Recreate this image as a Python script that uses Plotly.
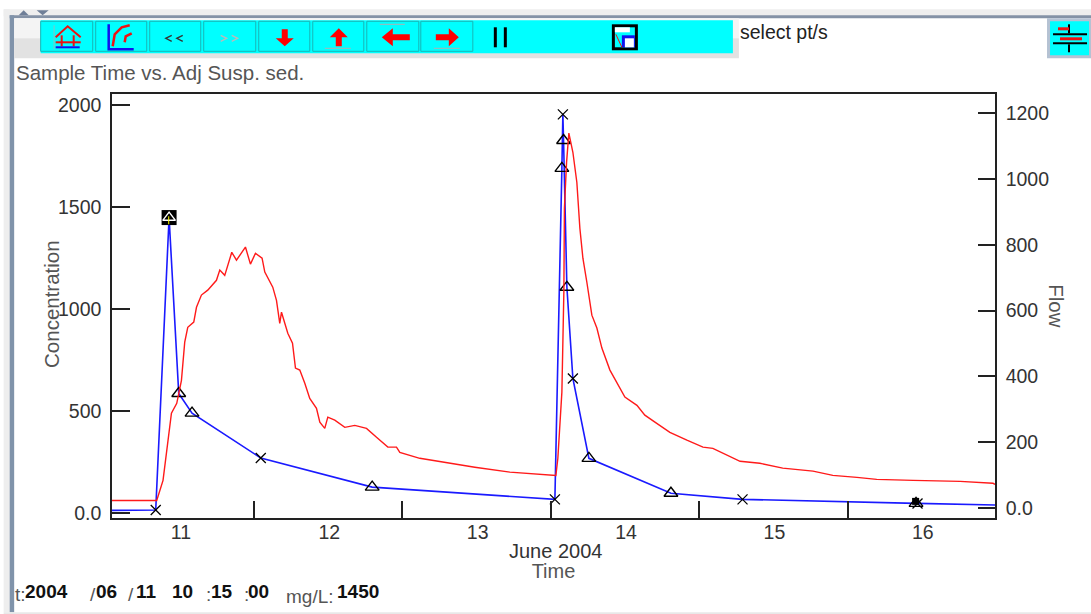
import pandas as pd
import plotly.graph_objects as go

# Flow (red, right axis): hours after 2004-06-11 00:00, flow value
flow_hours = [0.97,8.25,9.27,10.08,10.63,11.49,12.25,12.78,13.27,14.24,14.68,15.48,16.5,17.91,18.45,19.25,20.39,21.15,22.6,23.41,24.22,25.29,25.73,27.02,27.62,28.15,28.43,29.45,30.21,30.69,31.39,32.2,33.0,34.09,34.63,35.43,35.92,37.05,38.67,40.29,42.18,43.8,45.63,47.03,47.57,50.8,55.66,59.7,65.37,72.81,73.13,73.78,74.1,74.19,74.54,74.91,75.56,76.2,76.69,77.18,77.82,78.63,79.44,80.25,81.55,82.68,83.97,85.92,87.2,88.83,91.25,94.0,96.6,98.2,99.83,102.6,105.8,109.5,114.4,117.6,121.5,124.7,130.6,138.2,143.5,143.85]
flow_values = [23,23,84,206,288,318,388,504,549,565,610,647,662,692,723,707,777,753,793,741,774,759,717,671,631,561,595,531,501,425,419,379,333,303,261,242,276,267,245,251,242,215,185,185,169,151,136,124,109,99,151,352,656,911,1051,1139,1081,990,850,759,686,586,547,486,419,382,337,312,282,261,230,206,185,181,166,142,136,121,112,99,93,87,84,81,75,72]

# Concentration (blue, left axis): sampled points
conc_hours = [0.97,8.09,10.25,11.81,13.96,25.08,43.1,72.65,73.78,73.94,74.05,74.59,75.56,78.15,91.42,103.0,131.06,131.3,143.85]
conc_values = [14,16,1450,587,491,271,128,68,1691,1956,1828,1108,661,269,98,68,48,48,40]
conc_symbols = [None,"x",None,"t","t","x","t","x","t","x","t","t","x","t","t","x","t","x",None]
selected_hours = [10.25]
selected_values = [1450]
overlap_hours = [131.0]
overlap_values = [58]

left_ticks = [0,500,1000,1500,2000]
left_labels = ["0.0","500","1000","1500","2000"]
right_ticks = [0,200,400,600,800,1000,1200]
right_labels = ["0.0","200","400","600","800","1000","1200"]

def to_time(hours):
    return pd.Timestamp("2004-06-11") + pd.to_timedelta(list(hours), unit="h")

L, R, T, B = 112.3, 995.0, 93.7, 517.7
W, H = 1091, 614
def px(x): return (x - L) / (R - L)
def py(y): return (B - y) / (B - T)

fig = go.Figure()
fig.add_trace(go.Scatter(x=to_time(flow_hours), y=flow_values, mode="lines", yaxis="y2",
                         line=dict(color="#ff1a1a", width=1.4), showlegend=False))
fig.add_trace(go.Scatter(x=to_time(conc_hours), y=conc_values, mode="lines",
                         line=dict(color="#1a1aff", width=1.6), showlegend=False))
fig.add_trace(go.Scatter(x=to_time(selected_hours), y=selected_values, mode="markers",
                         marker=dict(symbol="square", size=15, color="black"), showlegend=False))
fig.add_trace(go.Scatter(x=to_time(overlap_hours), y=overlap_values, mode="markers",
                         marker=dict(symbol="square", size=7, color="black"), showlegend=False))
tri_h = [h for h, s in zip(conc_hours, conc_symbols) if s == "t"]
tri_v = [v for v, s in zip(conc_values, conc_symbols) if s == "t"]
x_h = [h for h, s in zip(conc_hours, conc_symbols) if s == "x"]
x_v = [v for v, s in zip(conc_values, conc_symbols) if s == "x"]
fig.add_trace(go.Scatter(x=to_time(tri_h), y=tri_v, mode="markers", showlegend=False,
                         marker=dict(symbol="triangle-up-open", size=12, color="black", line=dict(width=1.4, color="black"))))
fig.add_trace(go.Scatter(x=to_time(x_h), y=x_v, mode="markers", showlegend=False,
                         marker=dict(symbol="x-thin-open", size=10, color="black", line=dict(width=1.3, color="black"))))
fig.add_trace(go.Scatter(x=to_time(selected_hours), y=selected_values, mode="markers", showlegend=False,
                         marker=dict(symbol="triangle-up-open", size=11, color="white", line=dict(width=1.4, color="white"))))

shapes = []
def rect(x0, y0, x1, y1, fill, line=None, w=1):
    shapes.append(dict(type="rect", xref="paper", yref="paper", x0=px(x0), x1=px(x1), y0=py(y0), y1=py(y1),
                       fillcolor=fill, line=dict(color=line or fill, width=w if line else 0)))
def path(points, fill=None, line=None, w=1.5, close=True):
    d = "M" + " L".join(f"{px(x):.5f},{py(y):.5f}" for x, y in points) + (" Z" if close else "")
    shapes.append(dict(type="path", xref="paper", yref="paper", path=d,
                       fillcolor=fill if fill else "rgba(0,0,0,0)",
                       line=dict(color=line or fill, width=w if line else 0)))

# window frame
rect(4, 9, 1091, 16, "#eeeeee")
rect(4, 9, 10, 612, "#eeeeee")
rect(10, 15, 1091, 18, "#8492a6")
rect(10, 15, 14.5, 612, "#8093aa")
rect(4, 612, 1091, 614, "#e8e8e8")
path([(19, 15), (24, 10), (29, 15)], fill="#6f7f98")
path([(37, 10), (49, 10), (43, 15)], fill="#6f7f98")
# toolbar
rect(14.5, 18, 739, 38, "#f4f4f4")
rect(14.5, 38, 739, 58, "#e2e2e2")
rect(41, 20, 733, 53, "#00ffff")
for b0, b1 in [(41,93),(96,147),(150,201),(204,256),(259,310),(313,364),(367,419),(421,473)]:
    rect(b0, 21, b1, 51, "#00ffff", "#18b6b6", 1)
# home icon
rect(54, 25, 54.8, 49, "#b0b0b0")
path([(56,37),(68,26),(81,37)], line="#ee1111", w=2, close=False)
path([(56,42),(81,42)], line="#ee1111", w=2, close=False)
path([(62,35),(62,46)], line="#ee1111", w=2, close=False)
path([(74,35),(74,46)], line="#ee1111", w=2, close=False)
path([(56,47),(80,47)], line="#1111ee", w=2, close=False)
# curve icon
path([(109,24),(109,49),(134,49)], line="#1111ee", w=2.5, close=False)
path([(113,46),(115,34),(122,27),(130,25)], line="#ee1111", w=2.5, close=False)
path([(125,42),(126,36),(132,33)], line="#ee1111", w=2.5, close=False)
# << and >>
for x in (166, 177):
    path([(x+6,35),(x,38),(x+6,41)], line="#333333", w=1.3, close=False)
for x in (221, 232):
    path([(x,35),(x+6,38),(x,41)], line="#bbbbbb", w=1.3, close=False)
# arrows
path([(282,29),(288,29),(288,38),(294,38),(285,46),(276,38),(282,38)], fill="#ff0000")
path([(336,46),(342,46),(342,37),(348,37),(339,28),(330,37),(336,37)], fill="#ff0000")
rect(325, 47.5, 351, 48.5, "#b0b0b0")
path([(410,34),(410,40),(393,40),(393,46),(382,37),(393,28),(393,34)], fill="#ff0000")
rect(380, 23.5, 405, 24.5, "#b0b0b0")
path([(436,34),(436,40),(449,40),(449,46),(459,37),(449,28),(449,34)], fill="#ff0000")
rect(434, 47.5, 460, 48.5, "#b0b0b0")
# pause
rect(494, 27, 497, 47, "#000000")
rect(504, 27, 507, 47, "#000000")
# zoom-box icon
rect(612, 24, 638, 50, "#000000")
rect(615, 27, 635, 47, "#00ffff")
rect(615, 27, 630, 32, "#ffffff")
rect(622, 35, 635, 47, "#1111ee")
rect(625, 38, 634, 47, "#ffffff")
path([(616,34),(622,47)], line="#ee1111", w=1, close=False)
# right button
rect(1047, 18, 1091, 58, "#b5c2d3")
rect(1050, 21, 1089, 55, "#00ffff")
rect(1053, 33, 1087, 35, "#000000")
rect(1053, 42, 1087, 44, "#000000")
rect(1068, 24, 1070, 33, "#000000")
rect(1068, 44, 1070, 52, "#000000")
rect(1058, 27, 1069, 30, "#ee1111")
rect(1060, 37, 1082, 40, "#ee1111")
# selected-point cursor
rect(168.5, 216, 169.5, 224, "#ffff00")

anns = []
SANS = "Liberation Sans"
def text(s, x, y, size=19, color="#444444", bold=False, xanchor="left", angle=0):
    anns.append(dict(text=f"<b>{s}</b>" if bold else s, xref="paper", yref="paper", x=px(x), y=py(y),
                     xanchor=xanchor, yanchor="middle", showarrow=False, textangle=angle,
                     font=dict(family=SANS, size=size, color=color)))
text("Sample Time vs. Adj Susp. sed.", 14, 72, size=20.5, color="#555555")
text("select pt/s", 738, 32, size=19.5, color="#222222")
text("June 2004", 556, 551, size=20, color="#333333", xanchor="center")
text("Concentration", 52, 304, size=20.5, color="#555555", xanchor="center", angle=-90)
text("Flow", 1057, 305, size=20.5, color="#555555", xanchor="center", angle=90)
text("t:", 13, 594, size=19, color="#555555")
text("2004", 23, 591, size=19, color="#111111", bold=True)
text("/", 88, 594, size=19, color="#555555")
text("06", 94, 591, size=19, color="#111111", bold=True)
text("/", 126, 594, size=19, color="#555555")
text("11", 134, 591, size=19, color="#111111", bold=True)
text("10", 170, 591, size=19, color="#111111", bold=True)
text(":", 204, 594, size=19, color="#555555")
text("15", 209, 591, size=19, color="#111111", bold=True)
text(":", 242, 594, size=19, color="#555555")
text("00", 246, 591, size=19, color="#111111", bold=True)
text("mg/L:", 284, 596, size=19, color="#555555")
text("1450", 335, 591, size=19, color="#111111", bold=True)

axis_font = dict(family=SANS, size=19.5, color="#333333")
title_font = dict(family=SANS, size=20, color="#555555")
fig.update_layout(
    width=W, height=H, margin=dict(l=L, r=W-R, t=T, b=H-B),
    paper_bgcolor="white", plot_bgcolor="white", showlegend=False,
    shapes=shapes, annotations=anns,
    xaxis=dict(type="date", range=["2004-06-11 01:01", "2004-06-16 23:50"], dtick=86400000,
               tick0="2004-06-11", ticklabelmode="period", tickformat="%-d",
               ticks="inside", ticklen=17, tickwidth=1.5, tickcolor="#222222",
               showline=True, linecolor="#222222", linewidth=1.5, mirror=True, showgrid=False, zeroline=False,
               tickfont=axis_font, ticklabelstandoff=-4, ticklabelshift=1,
               title=dict(text="Time", font=title_font, standoff=22)),
    yaxis=dict(range=[-23.5, 2056], tickvals=left_ticks, ticktext=left_labels,
               ticks="inside", ticklen=18, tickwidth=1.5, tickcolor="#222222",
               showline=True, linecolor="#222222", linewidth=1.5, showgrid=False, zeroline=False,
               tickfont=axis_font, ticklabelstandoff=5),
    yaxis2=dict(range=[-30.4, 1258], tickvals=right_ticks, ticktext=right_labels, overlaying="y", side="right",
                ticks="inside", ticklen=17, tickwidth=1.5, tickcolor="#222222",
                showline=True, linecolor="#222222", linewidth=1.5, showgrid=False, zeroline=False,
                tickfont=axis_font, ticklabelstandoff=5),
)
fig.write_html("out.html", config=dict(displayModeBar=False),
               post_script="document.body.style.margin='0';document.body.style.overflow='hidden';")
